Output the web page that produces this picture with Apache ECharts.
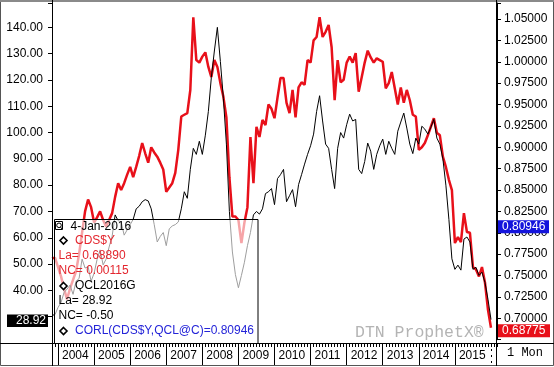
<!DOCTYPE html>
<html><head><meta charset="utf-8">
<script src="https://cdn.jsdelivr.net/npm/echarts@6/dist/echarts.min.js"></script>
<style>html,body{margin:0;padding:0;background:#fff}#c{width:554px;height:367px}</style>
</head><body><div id="c"></div>
<script>
// ---- data ----
const startYear = 2003, startMonth = 11;   // first monthly category (Nov 2003)
const monthCount = 149;                     // through Mar 2016 (axis extent)
const lastLabelYear = 2015;
// CDS$Y (Canadian dollar, right axis), monthly closes
const cadValues = [
0.770,0.771,0.760,0.749,0.735,0.722,0.735,0.745,0.755,0.775,0.800,0.825,0.839,0.830,
0.812,0.818,0.825,0.815,0.807,0.815,0.823,0.842,0.858,0.850,0.858,0.868,
0.877,0.865,0.877,0.890,0.905,0.893,0.882,0.900,0.894,0.889,0.882,0.874,
0.848,0.853,0.858,0.870,0.897,0.936,0.938,0.940,0.967,1.052,1.002,0.999,
1.006,1.011,0.994,0.982,1.002,0.994,0.975,0.959,0.935,0.865,0.819,0.819,
0.815,0.788,0.812,0.830,0.912,0.858,0.924,0.912,0.932,0.926,0.950,0.945,
0.934,0.958,0.981,0.981,0.952,0.940,0.967,0.935,0.970,0.976,0.973,1.002,
0.999,1.025,1.029,1.052,1.029,1.035,1.043,1.017,0.955,1.002,0.976,0.979,
0.999,1.006,0.999,1.010,0.965,0.982,0.999,1.013,1.005,0.999,1.004,1.002,
1.000,0.969,0.975,0.988,0.969,0.950,0.970,0.952,0.967,0.955,0.938,0.936,
0.897,0.900,0.905,0.914,0.924,0.934,0.917,0.914,0.889,0.877,0.862,0.850,
0.788,0.795,0.789,0.823,0.801,0.800,0.760,0.757,0.749,0.760,0.742,0.710,0.6889
];
// QCL (crude oil, left axis)
const oilValues = [
30.5,30.8,33.5,35.4,39.2,40.5,42,38.5,43.5,44.5,51.9,48.5,49,43.5,
46.5,51.8,55.4,49.7,51.9,56.5,60.6,68.7,66.5,66,61,63,
65,67,71,72,73.7,74.5,74,71,65,58.4,60.5,62,
57,63.4,64.5,65,66,71,77.5,75,86,94,91.7,96.7,
91.7,99,108,121,131,140,127,113,95.6,70,54.6,46,
41,45.7,50.7,57,62,68.7,70,69,71,76.8,77.5,78.7,
72.6,82.5,84,86,73.7,76,78.3,71.8,80.2,84,88,91.7,
95,99.4,108,114,104.4,95.6,94,86,78.7,94,100,97.9,
103,107,104.4,105,86,84.4,89,96,92.9,86,91.7,95,
97.5,91.7,96.7,94,91.7,100.5,104,107.4,101.7,95.6,92,97.9,
95.6,102.4,101.3,99.4,102,105,97.9,95.6,90,80,67,52,
48,49.6,47.7,59.5,60.3,58.4,48,48.8,45.7,46.9,43,36.6,28.92
];
const leftMin = 20, leftMax = 149.25, leftStep = 10;
const rightMin = 0.675, rightMax = 1.0687, rightStep = 0.025;
const lastDate = '4-Jan-2016';
const cadLast = 0.68890, cadChange = 0.00115, cadTag = 0.68775;
const oilLast = 28.92, oilChange = -0.50;
const corrValue = 0.80946;

// ---- build ----
const months = [];
for (let k = 0; k < monthCount; k++) {
  const m0 = startMonth - 1 + k;
  const y = startYear + Math.floor(m0 / 12), m = m0 % 12 + 1;
  months.push(y + '-' + String(m).padStart(2, '0'));
}
const isJan = v => v.slice(5) === '01';
const yr = v => +v.slice(0, 4);
const FONT = '"Liberation Sans", Arial, sans-serif';
const MONO = '"Liberation Mono", "Courier New", monospace';
const RED = '#e8101a', BLUE = '#1414dc', TXTRED = '#e3262e', TXTBLUE = '#2424d8';

const chart = echarts.init(document.getElementById('c'), null, {renderer: 'canvas'});
const gridBase = {left: 52, right: 57, top: 3, containLabel: false, outerBoundsMode: 'none'};
chart.setOption({
  animation: false,
  backgroundColor: '#fff',
  grid: [
    Object.assign({bottom: 24}, gridBase),
    Object.assign({bottom: 27.3}, gridBase)
  ],
  xAxis: [
    {type: 'category', gridIndex: 0, data: months, boundaryGap: false, position: 'bottom',
     axisLine: {show: true, lineStyle: {color: '#000', width: 1}},
     axisTick: {show: true, interval: 0, length: 4, lineStyle: {color: '#000'}},
     axisLabel: {interval: (i, v) => isJan(v) && yr(v) <= lastLabelYear, formatter: v => v.slice(0, 4),
       align: 'left', padding: [0, 0, 0, 4], margin: 7, color: '#000', fontSize: 12, fontFamily: FONT},
     splitLine: {show: false}},
    {type: 'category', gridIndex: 1, data: months, boundaryGap: false, show: false},
    {type: 'category', gridIndex: 0, data: months, boundaryGap: false, position: 'bottom',
     axisLine: {show: false}, axisLabel: {show: false}, splitLine: {show: false},
     axisTick: {show: true, interval: (i, v) => isJan(v) && yr(v) <= lastLabelYear + 1 && yr(v) <= lastLabelYear, length: 22, lineStyle: {color: '#000'}}},
    {type: 'category', gridIndex: 0, data: months, boundaryGap: false, position: 'bottom',
     axisLine: {show: false}, axisLabel: {show: false}, splitLine: {show: false},
     axisTick: {show: true, interval: (i, v) => isJan(v) && yr(v) === lastLabelYear + 1, length: 22, lineStyle: {color: '#000', type: [2, 4]}}}
  ],
  yAxis: [
    {type: 'value', gridIndex: 0, position: 'left', min: leftMin, max: leftMax, interval: leftStep,
     axisLine: {show: true, lineStyle: {color: '#000'}},
     axisTick: {show: true, length: 4, lineStyle: {color: '#000'}},
     axisLabel: {margin: 9, color: '#000', fontSize: 12, fontFamily: FONT,
       formatter: v => (v >= 39.99 && v <= 140.01) ? v.toFixed(2) : ''},
     splitLine: {show: false}},
    {type: 'value', gridIndex: 1, position: 'right', min: rightMin, max: rightMax, interval: rightStep,
     axisLine: {show: true, lineStyle: {color: '#000'}},
     axisTick: {show: true, length: 4, lineStyle: {color: '#000'}},
     axisLabel: {margin: 7, color: '#000', fontSize: 12, fontFamily: FONT,
       formatter: v => (v >= 0.6999 && v <= 1.0501) ? v.toFixed(5) : ''},
     splitLine: {show: false}}
  ],
  series: [
    {name: 'CDS$Y', type: 'line', xAxisIndex: 1, yAxisIndex: 1, data: cadValues, symbol: 'none',
     lineStyle: {color: RED, width: 2.5}, z: 2, emphasis: {disabled: true}},
    {name: 'QCL2016G', type: 'line', xAxisIndex: 0, yAxisIndex: 0, data: oilValues, symbol: 'none',
     lineStyle: {color: '#000', width: 1}, z: 3, emphasis: {disabled: true}}
  ]
});

const yCorr = chart.convertToPixel({yAxisIndex: 1}, corrValue) + 2;
const yCadTag = chart.convertToPixel({yAxisIndex: 1}, cadTag) + 2;
const yOil = chart.convertToPixel({yAxisIndex: 0}, oilLast) + 1;

function txt(text, x, y, fill, extra) {
  return Object.assign({type: 'text', z: 120, style: {text, x, y, fill, font: '12px ' + FONT, align: 'left', verticalAlign: 'middle'}}, extra || {});
}
function diamond(cx, cy) {
  return {type: 'polygon', z: 120, shape: {points: [[cx, cy - 3.5], [cx + 3.5, cy], [cx, cy + 3.5], [cx - 3.5, cy]]},
    style: {fill: '#fff', stroke: '#000', lineWidth: 1.6}};
}
const lineStyleFrame = {stroke: '#000', lineWidth: 1};
const els = [
  // frame
  {type: 'rect', z: 90, shape: {x: 0.5, y: 0.5, width: 553, height: 365}, style: {fill: 'none', stroke: '#555', lineWidth: 1}},
  {type: 'line', z: 91, shape: {x1: 0, y1: 1, x2: 554, y2: 1}, style: {stroke: '#8a8a8a', lineWidth: 2}},
  {type: 'line', z: 91, shape: {x1: 0, y1: 343.5, x2: 554, y2: 343.5}, style: lineStyleFrame},
  {type: 'line', z: 91, shape: {x1: 52.5, y1: 0, x2: 52.5, y2: 366}, style: lineStyleFrame},
  {type: 'line', z: 91, shape: {x1: 496.5, y1: 0, x2: 496.5, y2: 366}, style: lineStyleFrame},
  // watermark
  {type: 'text', z: 95, style: {text: 'DTN ProphetX®', x: 355, y: 333, fill: '#b4b4b4', font: '16.5px ' + MONO, align: 'left', verticalAlign: 'middle'}},
  {type: 'text', z: 95, style: {text: '1 Mon', x: 507, y: 353, fill: '#000', font: '12px ' + MONO, align: 'left', verticalAlign: 'middle'}},
  // legend box (semi-transparent)
  {type: 'rect', z: 110, shape: {x: 54.5, y: 219.5, width: 203.5, height: 124}, style: {fill: 'rgba(255,255,255,0.62)', stroke: '#000', lineWidth: 1}},
  {type: 'rect', z: 120, shape: {x: 55.5, y: 221.5, width: 7, height: 8}, style: {fill: '#fff', stroke: '#000', lineWidth: 1}},
  {type: 'circle', z: 121, shape: {cx: 59, cy: 225.3, r: 2.3}, style: {fill: 'none', stroke: '#000', lineWidth: 1}},
  {type: 'line', z: 121, shape: {x1: 60.5, y1: 227, x2: 62, y2: 229}, style: {stroke: '#000', lineWidth: 1}},
  txt(lastDate, 70.5, 226.5, '#000'),
  diamond(63.5, 240.5), txt('CDS$Y', 75, 240.7, TXTRED),
  txt('La= ' + cadLast.toFixed(5), 58.5, 256, TXTRED),
  txt('NC= ' + cadChange.toFixed(5), 58.5, 271, TXTRED),
  diamond(63.5, 286), txt('QCL2016G', 75, 286, '#000'),
  txt('La= ' + oilLast.toFixed(2), 58.5, 301, '#000'),
  txt('NC= ' + oilChange.toFixed(2), 58.5, 316, '#000'),
  diamond(63.5, 331), txt('CORL(CDS$Y,QCL@C)=' + corrValue.toFixed(5), 75, 331, TXTBLUE),
  // value tags
  {type: 'rect', z: 125, shape: {x: 7, y: yOil - 6, width: 41, height: 12.5}, style: {fill: '#000'}},
  {type: 'text', z: 126, style: {text: oilLast.toFixed(2), x: 46, y: yOil, fill: '#fff', font: '12px ' + FONT, align: 'right', verticalAlign: 'middle'}},
  {type: 'rect', z: 125, shape: {x: 498, y: yCorr - 6.5, width: 51, height: 13}, style: {fill: BLUE}},
  {type: 'text', z: 126, style: {text: corrValue.toFixed(5), x: 502, y: yCorr, fill: '#fff', font: '12px ' + FONT, align: 'left', verticalAlign: 'middle'}},
  {type: 'rect', z: 125, shape: {x: 498, y: yCadTag - 6.5, width: 52, height: 13}, style: {fill: RED}},
  {type: 'text', z: 126, style: {text: cadTag.toFixed(5), x: 502, y: yCadTag, fill: '#fff', font: '12px ' + FONT, align: 'left', verticalAlign: 'middle'}}
];
chart.setOption({graphic: {elements: els}});
</script>
</body></html>
